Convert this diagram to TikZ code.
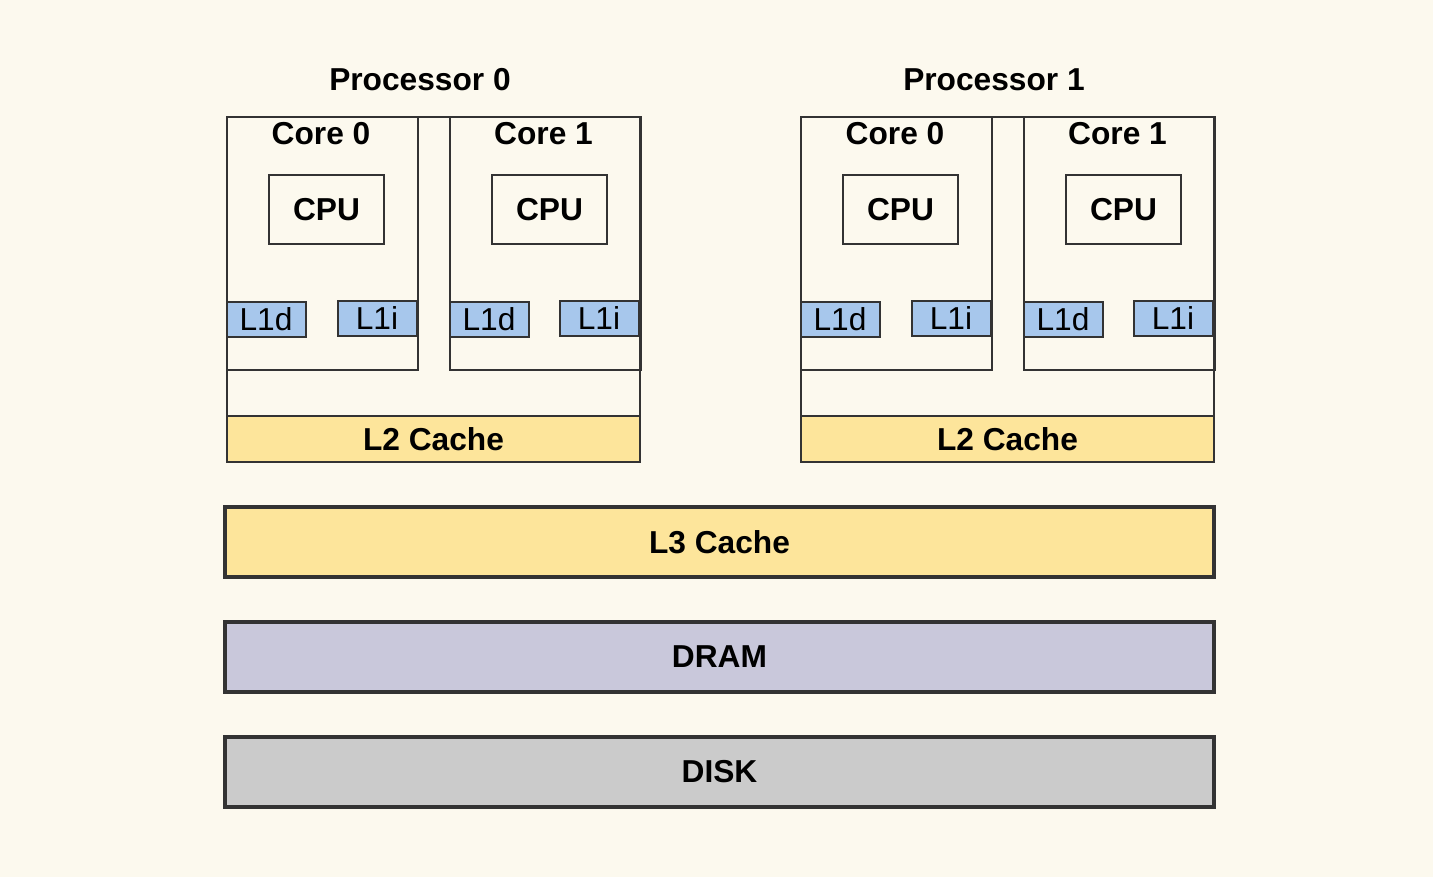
\documentclass[tikz,border=0pt]{standalone}
\usepackage{fontspec}
\setmainfont{Liberation Sans}
\usepackage{tikz}
\definecolor{paper}{HTML}{FCF9EE}
\definecolor{ink}{HTML}{333333}
\definecolor{cachey}{HTML}{FDE59B}
\definecolor{cacheb}{HTML}{A7C7EC}
\definecolor{dramc}{HTML}{C9C8DB}
\definecolor{diskc}{HTML}{CBCBCB}
\newcommand{\labelsize}{\fontsize{31.7}{36}\selectfont}
\tikzstyle{box}   = [draw=ink,line width=2pt,shape=rectangle,inner sep=0pt]
\tikzstyle{proc}  = [box,minimum width=413pt,minimum height=345pt]
\tikzstyle{core}  = [box,minimum width=191pt,minimum height=253pt]
\tikzstyle{cpu}   = [box,minimum width=115pt,minimum height=69pt,font=\labelsize\bfseries]
\tikzstyle{lone}  = [box,fill=cacheb,minimum width=79pt,minimum height=35pt,font=\labelsize]
\tikzstyle{ltwo}  = [box,fill=cachey,minimum width=413pt,minimum height=46pt,font=\labelsize\bfseries]
\tikzstyle{level} = [box,line width=4pt,minimum width=989pt,minimum height=70pt,font=\labelsize\bfseries]
\tikzstyle{title} = [anchor=base,inner sep=0pt,font=\labelsize\bfseries]

\begin{document}
\begin{tikzpicture}[x=1pt,y=-1pt]
\fill[paper] (0,0) rectangle (1433,877);
\useasboundingbox (0,0) rectangle (1433,877);

\node[title] (t0) at (420,91) {Processor 0};
\node[proc] (p0) at (433.5,289.5) {};
\node[ltwo] (l2p0) at (433.5,439) {L2 Cache};
\node[core] (c00) at (322.5,243.5) {};
\node[core] (c01) at (545,243.5) {};
\node[title] (tc00) at (321,145) {Core 0};
\node[title] (tc01) at (543.5,145) {Core 1};
\node[cpu] (cpu00) at (326.5,209.5) {CPU};
\node[cpu] (cpu01) at (549.5,209.5) {CPU};
\node[lone] (l1d00) at (266,319.5) {L1d};
\node[lone] (l1i00) at (377,318.5) {L1i};
\node[lone] (l1d01) at (489,319.5) {L1d};
\node[lone] (l1i01) at (599,318.5) {L1i};

\node[title] (t1) at (994,91) {Processor 1};
\node[proc] (p1) at (1007.5,289.5) {};
\node[ltwo] (l2p1) at (1007.5,439) {L2 Cache};
\node[core] (c10) at (896.5,243.5) {};
\node[core] (c11) at (1119,243.5) {};
\node[title] (tc10) at (895,145) {Core 0};
\node[title] (tc11) at (1117.5,145) {Core 1};
\node[cpu] (cpu10) at (900.5,209.5) {CPU};
\node[cpu] (cpu11) at (1123.5,209.5) {CPU};
\node[lone] (l1d10) at (840,319.5) {L1d};
\node[lone] (l1i10) at (951,318.5) {L1i};
\node[lone] (l1d11) at (1063,319.5) {L1d};
\node[lone] (l1i11) at (1173,318.5) {L1i};

\node[level,fill=cachey] (l3)   at (719.5,542)   {L3 Cache};
\node[level,fill=dramc]  (dram) at (719.5,656.5) {DRAM};
\node[level,fill=diskc]  (disk) at (719.5,771.5) {DISK};
\end{tikzpicture}
\end{document}
